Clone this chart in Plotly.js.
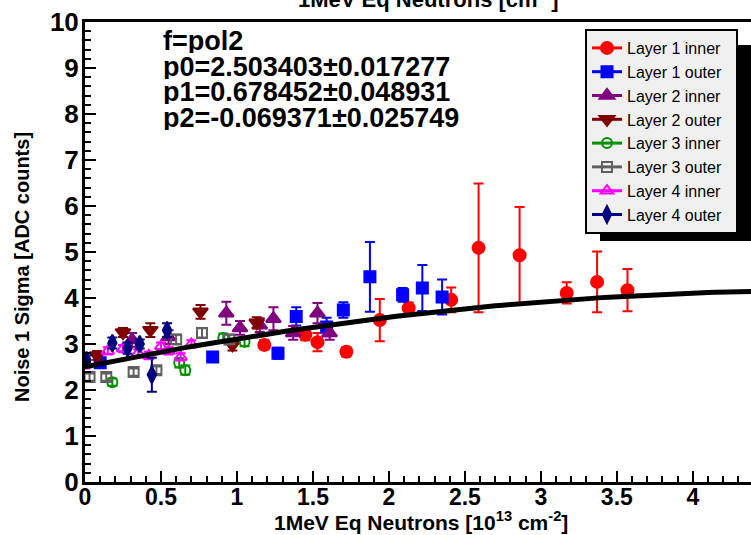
<!DOCTYPE html>
<html>
<head>
<meta charset="utf-8">
<script src="https://cdn.plot.ly/plotly-3.0.1.min.js"></script>
<style>
html,body{margin:0;padding:0;overflow:hidden;background:#fff;width:751px;height:535px;}
#chart{position:absolute;left:0;top:-40px;width:790px;height:575px;}
</style>
</head>
<body>
<div id="chart"></div>
<script>
// ---- data ----
const seriesNames = ["Layer 1 inner","Layer 1 outer","Layer 2 inner","Layer 2 outer","Layer 3 inner","Layer 3 outer","Layer 4 inner","Layer 4 outer"];

const l1inX = [1.18, 1.45, 1.53, 1.72, 1.94, 2.13, 2.41, 2.59, 2.86, 3.17, 3.37, 3.57];
const l1inY = [2.98, 3.20, 3.04, 2.83, 3.52, 3.78, 3.96, 5.09, 4.93, 4.11, 4.35, 4.17];
const l1inE = [0.10, 0.12, 0.20, 0.10, 0.46, 0.12, 0.27, 1.40, 1.05, 0.23, 0.66, 0.46];

const l1outX = [0.10, 0.84, 1.27, 1.39, 1.59, 1.70, 1.875, 2.09, 2.22, 2.35];
const l1outY = [2.59, 2.72, 2.80, 3.60, 3.37, 3.74, 4.46, 4.07, 4.22, 4.02];
const l1outE = [0.10, 0.10, 0.12, 0.20, 0.20, 0.17, 0.76, 0.15, 0.50, 0.38];

const l2inX = [0.31, 0.55, 0.93, 1.02, 1.15, 1.24, 1.37, 1.53, 1.61];
const l2inY = [3.09, 3.15, 3.67, 3.35, 3.41, 3.55, 3.24, 3.67, 3.24];
const l2inE = [0.15, 0.15, 0.25, 0.15, 0.15, 0.25, 0.15, 0.22, 0.15];

const l2outX = [0.08, 0.25, 0.43, 0.76, 0.97, 1.13];
const l2outY = [2.75, 3.25, 3.30, 3.70, 2.98, 3.46];
const l2outE = [0.10, 0.10, 0.15, 0.15, 0.12, 0.12];

const l3inX = [0.18, 0.62, 0.66, 0.91, 1.05];
const l3inY = [2.17, 2.59, 2.43, 3.13, 3.05];
const l3inE = [0.08, 0.10, 0.10, 0.10, 0.10];

const l3outX = [0.03, 0.14, 0.32, 0.47, 0.60, 0.77, 0.95];
const l3outY = [2.28, 2.28, 2.39, 2.43, 3.10, 3.24, 3.10];
const l3outE = [0.08, 0.08, 0.08, 0.08, 0.10, 0.10, 0.10];

const l4inX = [0.00, 0.15, 0.25, 0.35, 0.42, 0.50, 0.55, 0.63, 0.70];
const l4inY = [2.55, 2.85, 2.90, 2.80, 2.75, 2.95, 2.85, 2.72, 3.00];
const l4inE = [0.08, 0.08, 0.08, 0.08, 0.08, 0.08, 0.08, 0.08, 0.08];

const l4outX = [0.01, 0.18, 0.28, 0.36, 0.44, 0.54];
const l4outY = [2.65, 3.02, 2.91, 3.00, 2.33, 3.30];
const l4outE = [0.10, 0.12, 0.12, 0.10, 0.37, 0.15];

// pol2 fit parameters printed on the chart
const fitParams = [2.503403, 0.678452, -0.069371];
const fitErrors = [0.017277, 0.048931, 0.025749];

const xTickVals = [0, 0.5, 1, 1.5, 2, 2.5, 3, 3.5, 4];
const xTickText = ["0", "0.5", "1", "1.5", "2", "2.5", "3", "3.5", "4"];
const yTickVals = [0,1,2,3,4,5,6,7,8,9,10];
const yTickText = ["0","1","2","3","4","5","6","7","8","9","10"];

// ---- styles ----
const styles = [
  {color:"#ff0000", symbol:"circle", size:12},
  {color:"#0000ff", symbol:"square", size:11},
  {color:"#800080", symbol:"triangle-up", size:13},
  {color:"#800000", symbol:"triangle-down", size:13},
  {color:"#009000", symbol:"circle-open", size:10},
  {color:"#606060", symbol:"square-open", size:10},
  {color:"#ff00ff", symbol:"triangle-up-open", size:11},
  {color:"#000080", symbol:"diamond-tall", size:12}
];
const xs = [l1inX,l1outX,l2inX,l2outX,l3inX,l3outX,l4inX,l4outX];
const ys = [l1inY,l1outY,l2inY,l2outY,l3inY,l3outY,l4inY,l4outY];
const es = [l1inE,l1outE,l2inE,l2outE,l3inE,l3outE,l4inE,l4outE];

const traces = [];
for (let i = 0; i < seriesNames.length; i++) {
  const s = styles[i];
  traces.push({
    type:"scatter", mode:"markers", x:xs[i], y:ys[i], name:seriesNames[i], showlegend:false,
    marker:{color:s.color, symbol:s.symbol, size:s.size, line:{color:s.color, width:2}},
    error_y:{type:"data", array:es[i], visible:true, color:s.color, thickness:2, width:5},
    hoverinfo:"skip"
  });
}
// legend entries (marker + horizontal line, ROOT style)
for (let i = 0; i < seriesNames.length; i++) {
  const s = styles[i];
  traces.push({
    type:"scatter", mode:"lines+markers", x:[null], y:[null], name:seriesNames[i] + "\u00a0\u00a0", showlegend:true,
    marker:{color:s.color, symbol:s.symbol, size:s.size, line:{color:s.color, width:2}},
    line:{color:s.color, width:3}
  });
}
// fit curve f = p0 + p1 x + p2 x^2
const fitX = [], fitY = [];
for (let k = 0; k <= 92; k++) {
  const x = k * 0.05;
  fitX.push(x);
  fitY.push(fitParams[0] + fitParams[1]*x + fitParams[2]*x*x);
}
traces.push({type:"scatter", mode:"lines", x:fitX, y:fitY, showlegend:false,
  line:{color:"#000", width:5}, hoverinfo:"skip"});

const fmt = (v) => v.toFixed(6);
const statLines = [
  "f=pol2",
  "p0=" + fmt(fitParams[0]) + "±" + fmt(fitErrors[0]),
  "p1=" + fmt(fitParams[1]) + "±" + fmt(fitErrors[1]),
  "p2=" + fmt(fitParams[2]) + "±" + fmt(fitErrors[2])
];

// plot area: page x 85..784, page y 22..482 (div offset -40)
const W = 790, H = 575;
const mL = 85, mR = 6, mT = 62, mB = 53;
const pw = W - mL - mR, ph = H - mT - mB;
const px = (p) => (p - mL) / pw;            // page x -> paper
const py = (p) => (482 - p) / ph;           // page y -> paper

const font = "Liberation Sans, Arial, sans-serif";
const annotations = [];
statLines.forEach((t, i) => {
  annotations.push({xref:"paper", yref:"paper", x:px(162), y:py(41 + i*25.7), xanchor:"left", yanchor:"middle",
    height:24, borderpad:0,
    text:"<b>"+t+"</b>", showarrow:false, font:{family:font, size:27, color:"#000"}});
});
annotations.push({xref:"paper", yref:"paper", x:px(421), y:py(521), xanchor:"center", yanchor:"middle",
  text:"<b>1MeV Eq Neutrons [10<sup>13</sup> cm<sup>-2</sup>]</b>", showarrow:false, font:{family:font, size:21, color:"#000"}});
annotations.push({xref:"paper", yref:"paper", x:px(22), y:py(267), xanchor:"center", yanchor:"middle", textangle:-90,
  text:"<b>Noise 1 Sigma [ADC counts]</b>", showarrow:false, font:{family:font, size:20, color:"#000"}});
annotations.push({xref:"paper", yref:"paper", x:px(428), y:py(-2), xanchor:"center", yanchor:"middle",
  text:"<b>1MeV Eq Neutrons [cm<sup>-2</sup>]</b>", showarrow:false, font:{family:font, size:22, color:"#000"}});

const layout = {
  width:W, height:H,
  margin:{l:mL, r:mR, t:mT, b:mB, pad:0},
  paper_bgcolor:"#fff", plot_bgcolor:"#fff",
  showlegend:true,
  font:{family:font, color:"#000"},
  xaxis:{range:[0, 4.6], tickmode:"array", tickvals:xTickVals, ticktext:xTickText,
    ticks:"inside", ticklen:11, tickwidth:2, tickcolor:"#000",
    minor:{dtick:0.1, tick0:0, ticks:"inside", ticklen:6, tickwidth:2, tickcolor:"#000", showgrid:false},
    showline:true, linewidth:3, linecolor:"#000", mirror:true, showgrid:false, zeroline:false,
    tickfont:{family:font, size:23, color:"#000", weight:"bold"}, ticklabelstandoff:-8},
  yaxis:{range:[0, 10], tickmode:"array", tickvals:yTickVals, ticktext:yTickText,
    ticks:"inside", ticklen:11, tickwidth:2, tickcolor:"#000",
    minor:{dtick:0.2, tick0:0, ticks:"inside", ticklen:6, tickwidth:2, tickcolor:"#000", showgrid:false},
    showline:true, linewidth:3, linecolor:"#000", mirror:true, showgrid:false, zeroline:false,
    tickfont:{family:font, size:26, color:"#000", weight:"bold"}, ticklabelstandoff:-2},
  legend:{x:px(585), y:py(29), xanchor:"left", yanchor:"top", bgcolor:"#f0f0f0", bordercolor:"#000", borderwidth:2,
    font:{family:font, size:16, color:"#000"}, itemwidth:30, tracegroupgap:0},
  shapes:[{type:"rect", xref:"paper", yref:"paper", x0:px(600), x1:px(765), y0:py(241), y1:py(45),
    fillcolor:"#000", line:{width:0}, layer:"above"}],
  annotations:annotations
};

Plotly.newPlot("chart", traces, layout, {displayModeBar:false, staticPlot:true});
</script>
</body>
</html>
